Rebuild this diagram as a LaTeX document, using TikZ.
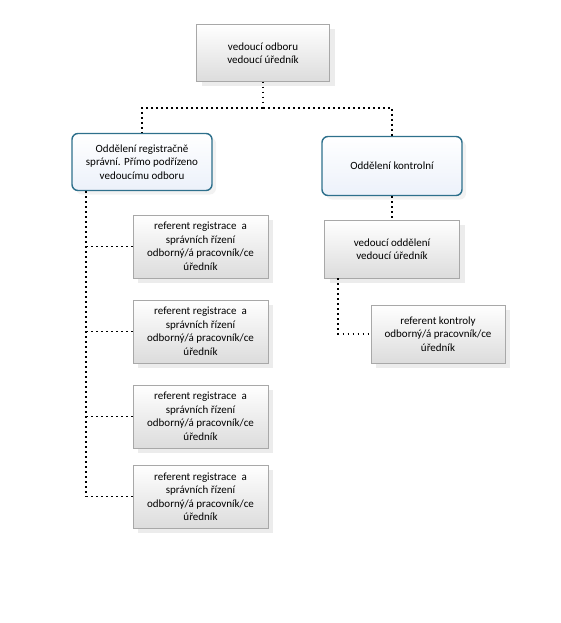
\documentclass[tikz,border=0pt]{standalone}
\usepackage{fontspec}
\setmainfont{Carlito}
\usetikzlibrary{shadows}
\definecolor{deptblue}{RGB}{46,112,140}
\definecolor{deptfill}{RGB}{236,241,250}
\definecolor{boxgray}{RGB}{168,168,168}
\definecolor{boxfill}{RGB}{220,220,220}
\begin{document}
\begin{tikzpicture}[x=1pt, y=-1pt,
  post/.style={rectangle, draw=boxgray, top color=white, bottom color=boxfill,
               minimum width=135pt, minimum height=60pt, align=center,
               font=\fontsize{11}{13.5}\selectfont,
               drop shadow={shadow xshift=5pt, shadow yshift=-5pt, opacity=0.15}},
  dept/.style={rectangle, draw=deptblue, line width=1.4pt, rounded corners=6pt,
               top color=white, bottom color=deptfill,
               minimum width=140pt, minimum height=57pt, align=center,
               font=\fontsize{11}{13.5}\selectfont,
               drop shadow={shadow xshift=4pt, shadow yshift=-4pt, opacity=0.1}},
  link/.style={line width=1.8pt, dash pattern=on 1.8pt off 3.2pt}
]
  \useasboundingbox (0,0) rectangle (560,623);

  % Vedeni odboru
  \node[post, minimum width=133pt, minimum height=57pt] (odbor) at (263,53)
    {vedoucí odboru\\vedoucí úředník};
  \coordinate (bus) at (263,108);

  % Oddeleni
  \node[dept] (reg) at (142,162)
    {Oddělení registračně\\správní. Přímo podřízeno\\vedoucímu odboru};
  \node[dept, minimum height=59pt] (kon) at (392,166) {Oddělení kontrolní};

  \draw[link] (odbor) -- (bus);
  \draw[link] (bus) -| (reg);
  \draw[link] (bus) -| (kon);

  % Referenti registrace
  \coordinate (spine) at ([xshift=15pt]reg.south west);
  \foreach \i/\y in {1/246.5, 2/331.5, 3/416.5, 4/496.5} {
    \node[post, minimum height=63pt] (r\i) at (200.5,\y)
      {referent registrace\ \ a\\správních řízení\\odborný/á pracovník/ce\\úředník};
    \draw[link] (spine) |- (r\i);
  }

  % Kontrola
  \node[post, minimum height=58pt] (vod) at (392,249)
    {vedoucí oddělení\\vedoucí úředník};
  \node[post, minimum width=134pt, minimum height=58pt] (rk) at (438,334)
    {referent kontroly\\odborný/á pracovník/ce\\úředník};
  \draw[link] (kon) -- (vod);
  \coordinate (vodleg) at ([xshift=14pt]vod.south west);
  \draw[link] (vodleg) |- (rk);
\end{tikzpicture}
\end{document}
